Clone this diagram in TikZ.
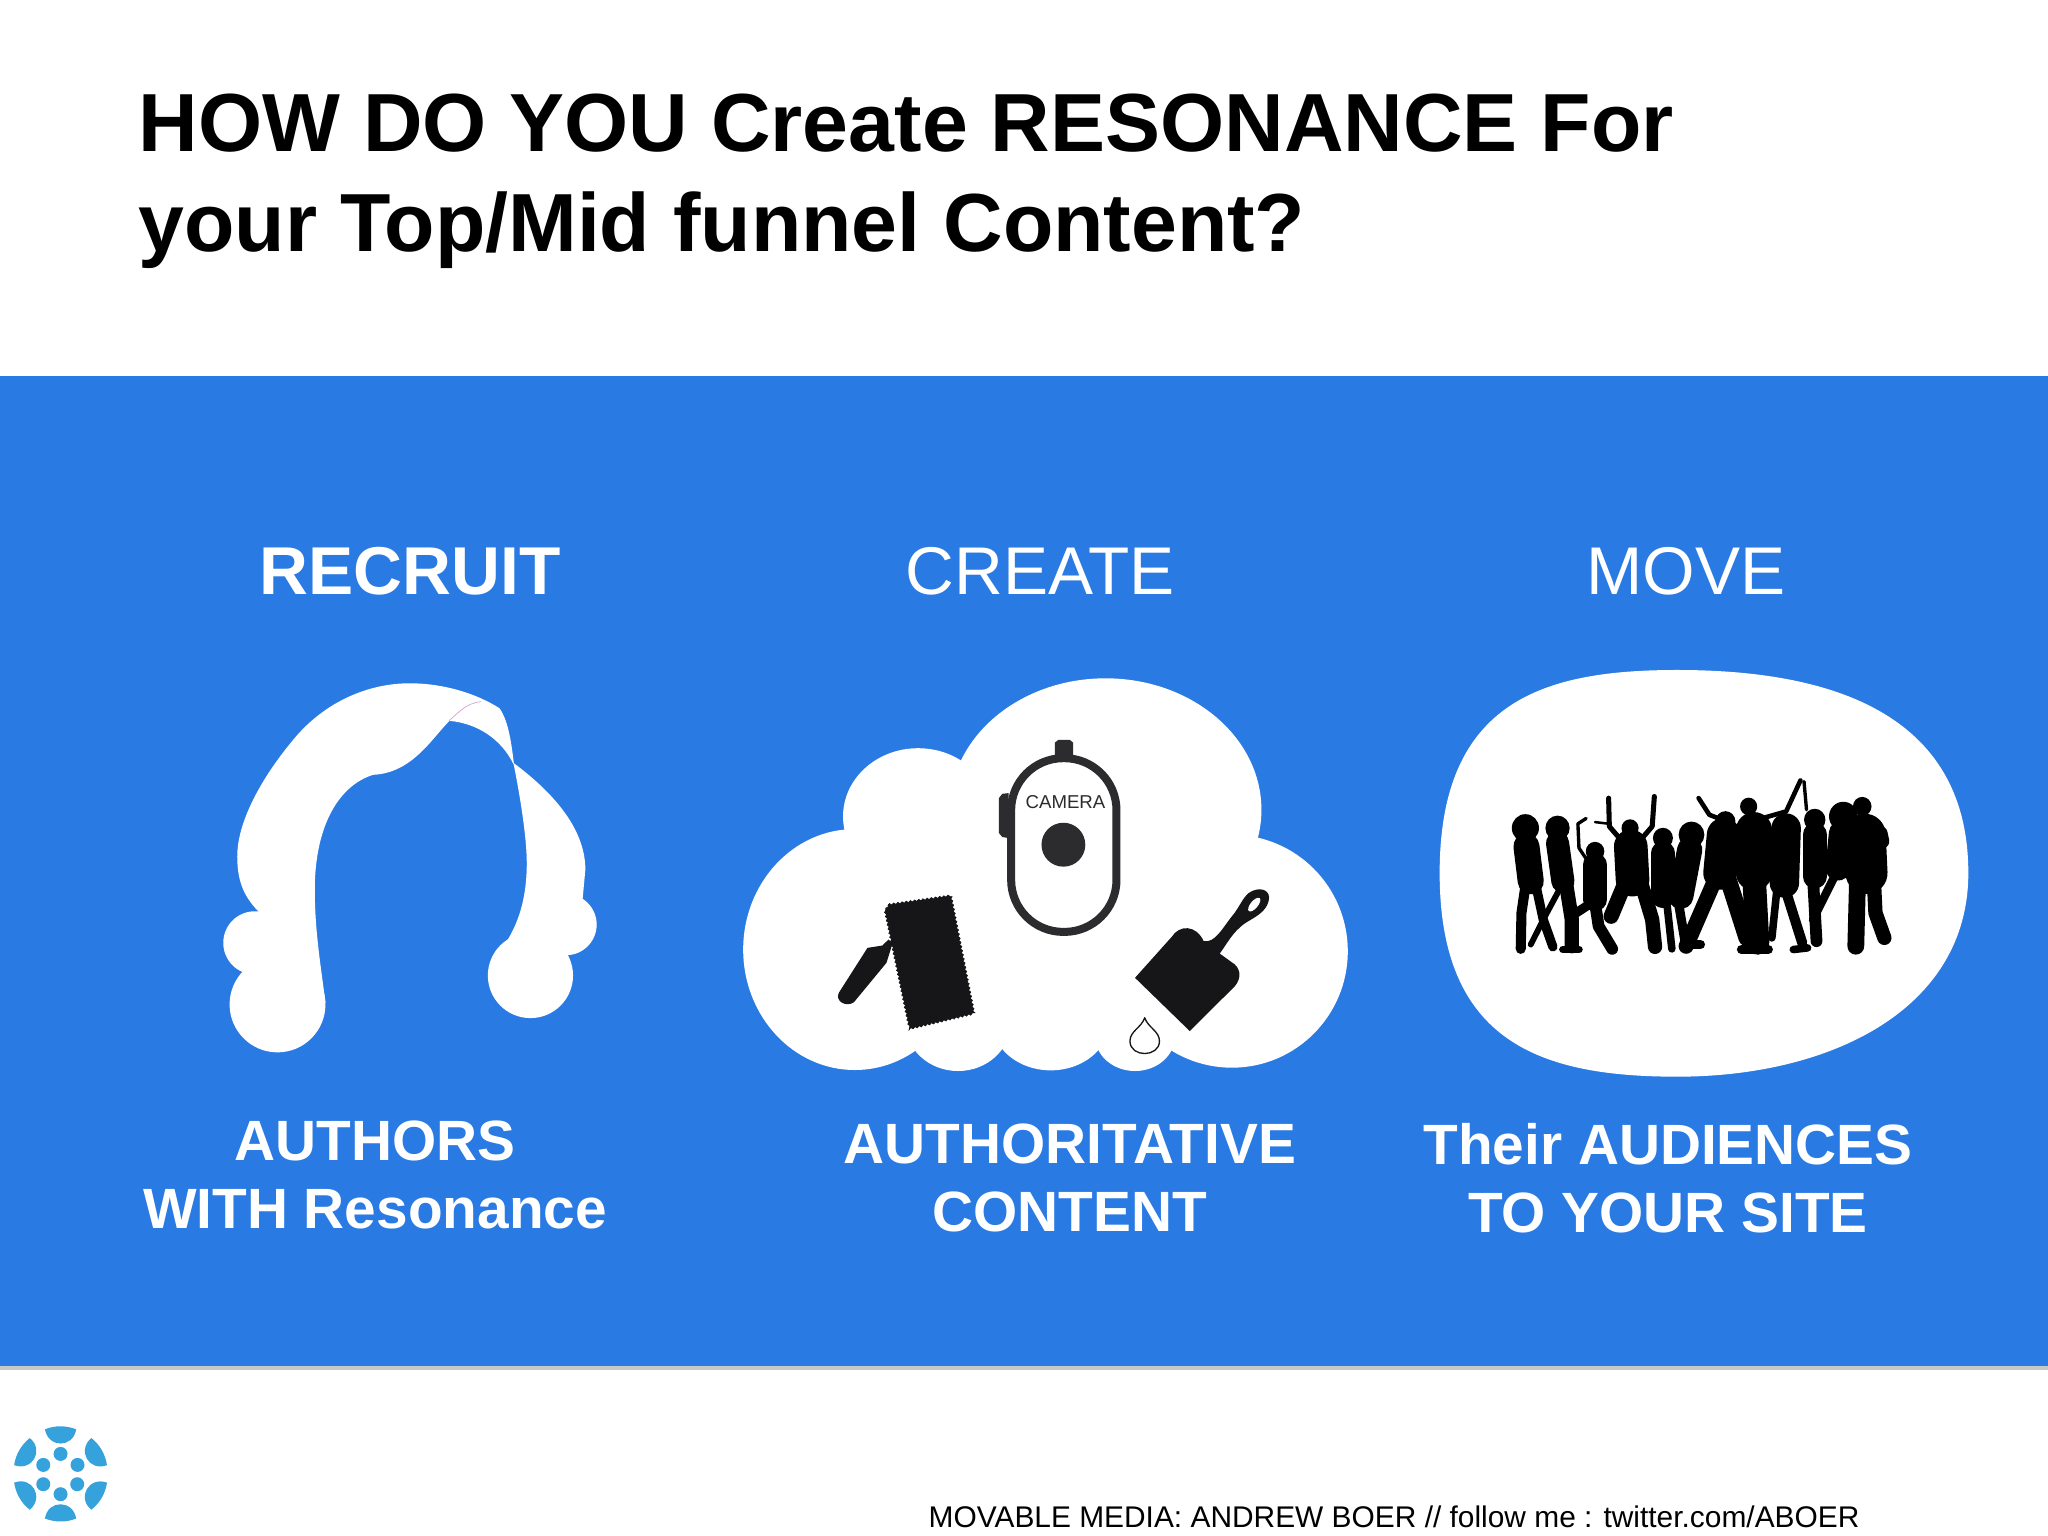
\documentclass[tikz,border=0pt]{standalone}
\usepackage{fontspec}
\setmainfont{Liberation Sans}
\usetikzlibrary{decorations.pathmorphing}
\definecolor{band}{HTML}{2A7AE3}
\definecolor{logoblue}{HTML}{36A2DC}
\definecolor{cam}{HTML}{2C2C2E}
\definecolor{ink}{HTML}{161618}
\tikzset{
  head/.style={font=\bfseries\fontsize{19.25}{23}\selectfont,text=white,anchor=center,inner sep=0pt},
  headlight/.style={font=\fontsize{19.2}{23}\selectfont,text=white,anchor=center,inner sep=0pt},
  sub/.style={font=\bfseries\fontsize{16.15}{19.3}\selectfont,text=white,align=center,anchor=center,inner sep=0pt},
  zoomhair/.style={x=0.003333cm,y=-0.003333cm},
  zoomcloud/.style={x=0.004209cm,y=-0.003333cm},
  zoomcrowd/.style={x=0.003571cm,y=-0.003333cm},
  limb/.style={line width=#1*0.042mm,line cap=round,line join=round,draw=black},
}
\newcommand{\stroke}[2]{\draw[limb=#1] #2;}
\newcommand{\headdot}[3]{\fill[black] (#1,#2) circle [x radius=#3,y radius=#3*1.1];}
\begin{document}
\begin{tikzpicture}[x=0.01cm,y=-0.01cm]
\useasboundingbox (0,0) rectangle (2048,1536);
\fill[white] (0,0) rectangle (2048,1536);
\fill[black!22] (0,1366) rectangle (2048,1370);
\fill[band] (0,376) rectangle (2048,1366);

\node[anchor=west,align=left,inner sep=0pt,font=\bfseries\fontsize{23.45}{28.4}\selectfont,text=black] (title) at (138,181)
  {HOW DO YOU Create RESONANCE For\\your Top/Mid funnel Content?};

\node[head] (recruit) at (410,571) {RECRUIT};
\node[headlight] (create) at (1040,571) {CREATE};
\node[headlight] (move) at (1686,571) {MOVE};

\node[sub] (authors) at (375,1175) {AUTHORS\\WITH Resonance};
\node[sub] (content) at (1070,1178) {AUTHORITATIVE\\CONTENT};
\node[sub] (audience) at (1668,1178) {Their AUDIENCES\\TO YOUR SITE};

% hair
\begin{scope}[shift={(180,650)},zoomhair]
\fill[white]
  (240,790) .. controls (195,745) and (172,700) .. (172,620)
  .. controls (172,520) and (240,390) .. (340,270)
  .. controls (430,160) and (560,100) .. (690,100)
  .. controls (790,100) and (890,130) .. (960,175)
  .. controls (985,210) and (995,270) .. (1003,340)
  .. controls (1110,420) and (1218,530) .. (1218,660)
  -- (1205,800) -- (1050,960) -- (945,925)
  .. controls (1010,850) and (1042,760) .. (1042,640)
  .. controls (1042,560) and (1020,430) .. (1003,345)
  .. controls (965,265) and (890,220) .. (810,213)
  .. controls (760,260) and (700,370) .. (580,375)
  .. controls (470,410) and (405,540) .. (405,720)
  .. controls (405,850) and (425,960) .. (437,1060)
  -- (290,1065) -- cycle;
\fill[white] (293,1065) circle [radius=144];
\fill[white] (225,880) circle [radius=95];
\fill[white] (1053,978) circle [radius=128];
\fill[white] (1160,825) circle [radius=92];
\draw[line width=0.2pt,violet!35] (808,213) .. controls (840,185) and (860,160) .. (905,155);
\end{scope}

% cloud
\begin{scope}[shift={(720,660)},zoomcloud]
\fill[white] (915,450) ellipse [x radius=370,y radius=395];
\fill[white] (470,470) ellipse [x radius=178,y radius=205];
\fill[white] (320,870) ellipse [x radius=265,y radius=362];
\fill[white] (1215,875) ellipse [x radius=275,y radius=350];
\fill[white] (565,1090) ellipse [x radius=125,y radius=145];
\fill[white] (785,1085) ellipse [x radius=140,y radius=148];
\fill[white] (985,1130) ellipse [x radius=95,y radius=105];
\fill[white] (400,400) rectangle (1200,1150);
% camera
\fill[cam] (795,290) -- (795,248) -- (803,240) -- (830,240) -- (838,248) -- (838,290) -- cycle;
\fill[cam] (685,400) -- (670,402) -- (662,415) -- (662,520) -- (670,532) -- (685,535) -- cycle;
\draw[cam,line width=0.8mm,fill=white,rounded corners=0.52cm] (691,295) rectangle (941,817);
\fill[cam] (815,555) ellipse [x radius=52,y radius=66];
\node[inner sep=0pt,text=cam,font=\fontsize{5.3}{6}\selectfont] (camlabel) at (820,428) {CAMERA};
% roller
\fill[ink] (400,840) -- (385,858) -- (350,865) -- (282,1000) .. controls (272,1025) and (300,1045) .. (318,1028) -- (395,910) -- (410,850) -- cycle;
\fill[ink,draw=ink,line width=0.2pt,decorate,decoration={zigzag,segment length=1.2pt,amplitude=0.25pt}] (400,735) -- (548,708) -- (603,1062) -- (450,1108) -- (392,755) -- cycle;
% pan
\fill[ink] (985,955) -- (1072,832) .. controls (1090,795) and (1130,795) .. (1148,845)
  .. controls (1175,850) and (1190,810) .. (1215,770) .. controls (1232,745) and (1240,715) .. (1255,700)
  .. controls (1280,678) and (1310,690) .. (1302,725) .. controls (1295,760) and (1265,775) .. (1245,792)
  .. controls (1215,820) and (1205,850) .. (1186,882) -- (1222,915) .. controls (1238,935) and (1235,960) .. (1222,980)
  -- (1115,1115) -- cycle;
\fill[white,rotate around={50:(1268,735)}] (1268,735) ellipse [x radius=20,y radius=11];
% drop
\draw[ink,line width=4*0.0333mm,line join=round] (1008,1075) .. controls (1000,1105) and (973,1115) .. (973,1145)
  .. controls (973,1195) and (1043,1195) .. (1043,1145) .. controls (1043,1115) and (1016,1105) .. (1008,1075) -- cycle;
\end{scope}

% audience blob
\begin{scope}[shift={(1420,660)},zoomcrowd]
\fill[white] (720,30) .. controls (1100,30) and (1535,130) .. (1535,640)
  .. controls (1535,1050) and (1150,1252) .. (720,1252)
  .. controls (340,1252) and (55,1150) .. (55,640)
  .. controls (55,120) and (350,30) .. (720,30) -- cycle;
% crowd
\headdot{295}{505}{38}
\stroke{62}{(298,560) -- (310,665)}
\stroke{24}{(295,680) -- (284,760) -- (282,868)}
\stroke{22}{(325,680) -- (345,780) -- (372,862)}
\headdot{385}{505}{34}
\stroke{55}{(385,550) -- (400,665)}
\stroke{14}{(395,680) -- (350,770) -- (310,855)}
\stroke{34}{(410,680) -- (425,780) -- (425,860)}
\stroke{18}{(400,870) -- (445,870)}
\stroke{8}{(465,476) -- (442,492) -- (445,565) -- (470,605)}
\stroke{6}{(490,487) -- (528,492)}
\headdot{490}{575}{26}
\stroke{55}{(490,615) -- (490,720)}
\stroke{22}{(480,730) -- (430,765)}
\stroke{28}{(490,730) -- (500,800) -- (538,868)}
\headdot{588}{505}{24}
\stroke{12}{(528,415) -- (530,500) -- (570,550)}
\stroke{12}{(656,410) -- (650,500) -- (610,550)}
\stroke{80}{(590,560) -- (595,660)}
\stroke{36}{(570,680) -- (535,770)}
\stroke{34}{(622,680) -- (650,780) -- (658,862)}
\headdot{680}{535}{28}
\stroke{56}{(680,580) -- (680,710)}
\stroke{18}{(690,720) -- (705,868)}
\headdot{760}{525}{36}
\stroke{60}{(755,570) -- (730,710)}
\stroke{22}{(722,720) -- (745,865)}
\stroke{11}{(780,415) -- (810,465) -- (850,482)}
\headdot{855}{485}{28}
\stroke{80}{(850,525) -- (840,640)}
\stroke{36}{(830,650) -- (745,860)}
\stroke{22}{(750,855) -- (785,855)}
\stroke{40}{(860,650) -- (915,835)}
\headdot{920}{440}{24}
\stroke{11}{(960,475) -- (1025,455) -- (1065,362)}
\stroke{84}{(935,510) -- (935,640)}
\stroke{56}{(935,650) -- (945,850)}
\stroke{22}{(900,870) -- (975,870)}
\stroke{8}{(1075,365) -- (1082,450)}
\stroke{70}{(1025,505) -- (1020,670)}
\stroke{18}{(1000,680) -- (985,835)}
\stroke{24}{(1020,680) -- (1070,850)}
\stroke{18}{(1045,870) -- (1085,865)}
\headdot{1105}{480}{30}
\stroke{58}{(1105,525) -- (1105,650)}
\stroke{28}{(1100,650) -- (1110,845)}
\headdot{1185}{470}{40}
\stroke{60}{(1180,520) -- (1170,625)}
\stroke{20}{(1170,630) -- (1100,780)}
\headdot{1238}{440}{26}
\stroke{100}{(1245,525) -- (1250,640)}
\stroke{32}{(1290,520) -- (1295,545)}
\stroke{40}{(1225,650) -- (1220,860)}
\stroke{34}{(1270,650) -- (1275,760) -- (1300,835)}
\end{scope}

% logo
\begin{scope}[shift={(0,1400)},zoomhair]
\fill[logoblue] (182,162) circle [radius=21] (130,195) circle [radius=21] (233,195) circle [radius=21]
  (130,253) circle [radius=21] (232,253) circle [radius=21] (182,283) circle [radius=21];
\foreach \a in {0,60,120,180,240,300}{
  \fill[logoblue,rotate around={\a:(182,222)}] (135,88) .. controls (165,76) and (198,76) .. (229,88)
    .. controls (220,145) and (145,145) .. (135,88) -- cycle;
}
\end{scope}

\node[anchor=base west,inner sep=0pt,font=\fontsize{8.5}{10}\selectfont,text=black] (footer) at (928,1527)
  {MOVABLE MEDIA: ANDREW BOER // follow me : twitter.com/ABOER};
\end{tikzpicture}
\end{document}
